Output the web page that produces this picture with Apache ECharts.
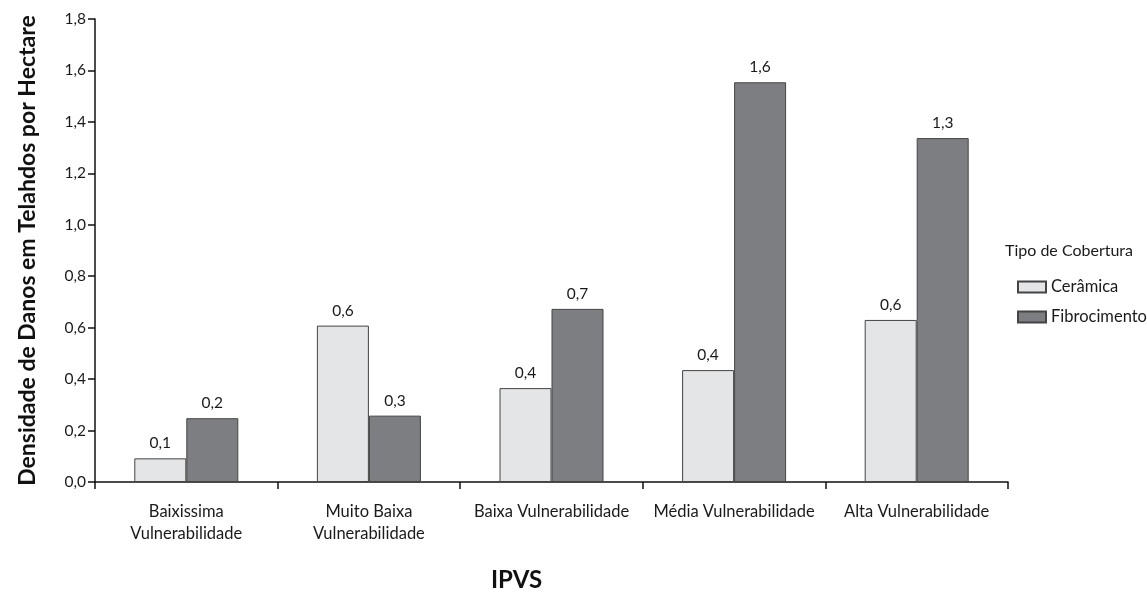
<!DOCTYPE html>
<html>
<head>
<meta charset="utf-8">
<script src="https://cdn.jsdelivr.net/npm/echarts@6/dist/echarts.min.js"></script>
<style>
  html, body { margin: 0; padding: 0; background: #fff; }
  #chart { width: 1147px; height: 592px; }
</style>
</head>
<body>
<div id="chart"></div>
<script>
// Damage density to roofs per hectare, by IPVS vulnerability class
const categories = [
  'Baixissima\nVulnerabilidade',
  'Muito Baixa\nVulnerabilidade',
  'Baixa Vulnerabilidade',
  'Média Vulnerabilidade',
  'Alta Vulnerabilidade'
];
const ceramica = [0.092, 0.608, 0.365, 0.435, 0.630];
const fibrocimento = [0.248, 0.258, 0.673, 1.554, 1.337];
const yTicks = [0, 0.2, 0.4, 0.6, 0.8, 1.0, 1.2, 1.4, 1.6, 1.8];

const FONT = 'Lato, "Open Sans", sans-serif';
const TEXT = '#1a1a1a';
const fmt = v => v.toFixed(1).replace('.', ',');

const chart = echarts.init(document.getElementById('chart'));

const labelStyle = {
  show: true,
  position: 'top',
  distance: 7,
  fontFamily: FONT,
  fontSize: 15.5,
  color: TEXT,
  formatter: p => fmt(p.value)
};

chart.setOption({
  animation: false,
  backgroundColor: '#fff',
  grid: { left: 95, right: 139, top: 19, bottom: 110 },
  legend: {
    orient: 'vertical',
    left: 1017,
    top: 277,
    padding: 0,
    itemWidth: 28,
    itemHeight: 11,
    itemGap: 10,
    icon: 'rect',
    textStyle: {
      fontFamily: FONT, fontSize: 16.5, color: TEXT,
      lineHeight: 20, padding: [0, 0, 0, 0]
    },
    data: ['Cerâmica', 'Fibrocimento']
  },
  graphic: [
    {
      type: 'text',
      left: 1005,
      top: 243,
      style: { text: 'Tipo de Cobertura', fontFamily: FONT, fontSize: 16, fill: TEXT }
    },
    {
      type: 'text',
      left: 491,
      top: 568,
      style: { text: 'IPVS', fontFamily: FONT, fontSize: 24, fontWeight: 'bold', fill: '#111' }
    }
  ],
  xAxis: {
    type: 'category',
    data: categories,
    axisLine: { lineStyle: { color: '#111', width: 1.5 } },
    axisTick: { show: true, length: 7, lineStyle: { color: '#111', width: 1.5 } },
    axisLabel: {
      margin: 19,
      fontFamily: FONT,
      fontSize: 16.5,
      color: TEXT,
      lineHeight: 22,
      interval: 0
    }
  },
  yAxis: {
    type: 'value',
    min: 0,
    max: 1.8,
    interval: 0.2,
    name: 'Densidade de Danos em Telahdos por Hectare',
    nameLocation: 'middle',
    nameGap: 56,
    nameTextStyle: { fontFamily: FONT, fontSize: 23, fontWeight: 'bold', color: '#111' },
    splitLine: { show: false },
    axisLine: { show: true, lineStyle: { color: '#111', width: 1.5 } },
    axisTick: { show: true, length: 7, lineStyle: { color: '#111', width: 1.5 } },
    axisLabel: {
      margin: 9,
      fontFamily: FONT,
      fontSize: 15.5,
      color: TEXT,
      formatter: v => {
        const t = yTicks.find(x => Math.abs(x - v) < 1e-9);
        return t === undefined ? '' : t.toFixed(1).replace('.', ',');
      }
    }
  },
  series: [
    {
      name: 'Cerâmica',
      type: 'bar',
      data: ceramica,
      barWidth: 52,
      barGap: '0%',
      itemStyle: { color: '#e4e5e7', borderColor: '#444', borderWidth: 1 },
      label: labelStyle
    },
    {
      name: 'Fibrocimento',
      type: 'bar',
      data: fibrocimento,
      barWidth: 52,
      barGap: '0%',
      itemStyle: { color: '#7d7e81', borderColor: '#444', borderWidth: 1 },
      label: labelStyle
    }
  ]
});
</script>
</body>
</html>
